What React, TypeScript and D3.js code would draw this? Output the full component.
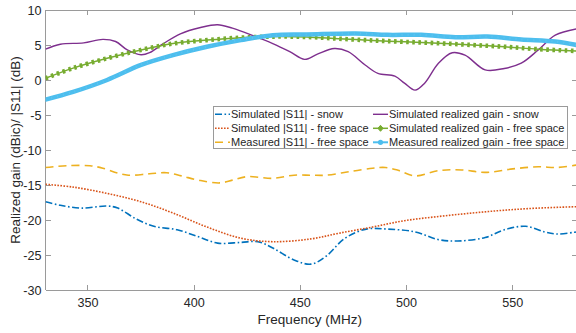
import React from 'react';
import * as d3 from 'd3';

const W = 576;
const H = 333;

const xTicks = [350, 400, 450, 500, 550];
const yTicks = [-30, -25, -20, -15, -10, -5, 0, 5, 10];

// Simulated |S11| - snow
const simS11SnowFreq = [330, 337, 347, 359, 364, 373, 381, 392, 402, 411, 422, 430, 437, 447, 455, 462, 471, 481, 491, 504, 515, 524, 537, 546, 556, 565, 571, 580];
const simS11SnowVal = [-17.4, -17.9, -18.3, -18.0, -18.3, -19.9, -20.9, -21.4, -22.4, -23.3, -23.2, -23.1, -24.0, -25.7, -26.3, -25.2, -22.6, -21.3, -21.3, -21.7, -22.8, -23.0, -22.5, -21.4, -20.9, -21.7, -22.0, -21.7];

// Simulated |S11| - free space
const simS11FreeFreq = [330, 343, 359, 375, 390, 406, 422, 437, 455, 468, 484, 499, 515, 531, 546, 562, 580];
const simS11FreeVal = [-14.9, -15.3, -16.2, -17.4, -19.0, -21.0, -22.6, -23.1, -22.7, -21.9, -21.0, -20.1, -19.5, -19.0, -18.6, -18.3, -18.1];

// Measured |S11| - free space
const measS11FreeFreq = [330, 340, 351, 357, 364, 369, 379, 387, 394, 402, 412, 418, 425, 437, 447, 455, 462, 473, 484, 490, 496, 504, 515, 526, 537, 550, 562, 571, 580];
const measS11FreeVal = [-12.5, -12.25, -12.25, -12.6, -13.3, -13.6, -13.4, -13.25, -13.7, -14.3, -14.7, -14.3, -13.8, -14.05, -13.6, -13.6, -13.6, -13.1, -12.6, -12.5, -12.9, -13.7, -12.95, -12.85, -13.2, -12.7, -12.4, -12.5, -12.15];

// Simulated realized gain - snow
const simGainSnowFreq = [330, 337, 348, 357, 363, 368.5, 375, 379, 385.5, 393.5, 403, 411, 418, 428, 437, 445, 452, 458, 466, 472.5, 480.5, 486.5, 494.5, 499, 504, 508.5, 515, 521.5, 527.5, 537, 546, 554, 562, 570, 580];
const simGainSnowVal = [4.4, 5.1, 5.3, 5.8, 5.5, 4.3, 3.6, 3.9, 5.2, 6.6, 7.5, 7.9, 7.4, 6.3, 5.2, 4.05, 2.95, 3.7, 4.5, 4.05, 2.15, 0.95, 0.55, -0.45, -1.45, -0.45, 2.4, 3.9, 3.55, 1.45, 1.65, 2.4, 4.3, 6.4, 7.3];

// Simulated realized gain - free space
const simGainFreeFreq = [330, 343, 359, 375, 390, 406, 422, 437, 453, 468, 484, 499, 515, 531, 546, 562, 580];
const simGainFreeVal = [0.25, 1.7, 3.1, 4.3, 5.2, 5.7, 6.05, 6.2, 6.15, 5.9, 5.65, 5.45, 5.25, 5.0, 4.75, 4.4, 4.15];

// Measured realized gain - free space
const measGainFreeFreq = [330, 343, 359, 375, 390, 406, 422, 437, 453, 476, 491, 507, 523, 538, 554, 570, 580];
const measGainFreeVal = [-2.8, -1.7, 0, 2.15, 3.55, 4.75, 5.7, 6.4, 6.5, 6.65, 6.45, 6.45, 6.1, 6.2, 5.8, 5.5, 5.0];

const seriesNames = [
  'Simulated |S11| - snow',
  'Simulated |S11| - free space',
  'Measured |S11| - free space',
  'Simulated realized gain - snow',
  'Simulated realized gain - free space',
  'Measured realized gain - free space',
];

const FONT = '"Liberation Sans", Arial, Helvetica, sans-serif';

export default function App() {
  const x = d3.scaleLinear().domain([330, 580]).range([45.5, 576.5]);
  const y = d3.scaleLinear().domain([-30, 10]).range([290, 10]);

  const mk = (fs: number[], vs: number[]) =>
    d3
      .line<number>()
      .x((_, i) => x(fs[i]))
      .y((d) => y(d))
      .curve(d3.curveCatmullRom.alpha(0.5))(vs) || '';

  const series = [
    { name: seriesNames[0], d: mk(simS11SnowFreq, simS11SnowVal), color: '#0072BD', width: 1.6, dash: '7 2.5 1.6 2.5', kind: 'line' },
    { name: seriesNames[1], d: mk(simS11FreeFreq, simS11FreeVal), color: '#D95319', width: 1.6, dash: '1.6 1.4', kind: 'line' },
    { name: seriesNames[2], d: mk(measS11FreeFreq, measS11FreeVal), color: '#EDB120', width: 1.6, dash: '8 5', kind: 'line' },
    { name: seriesNames[3], d: mk(simGainSnowFreq, simGainSnowVal), color: '#7E2F8E', width: 1.4, dash: undefined, kind: 'line' },
    { name: seriesNames[4], d: mk(simGainFreeFreq, simGainFreeVal), color: '#77AC30', width: 1.5, dash: undefined, kind: 'marker' },
    { name: seriesNames[5], d: mk(measGainFreeFreq, measGainFreeVal), color: '#4DBEEE', width: 4.5, dash: undefined, kind: 'thick' },
  ];

  const axisColor = '#9a9a9a';
  const textColor = '#262626';
  const left = x.range()[0];
  const right = x.range()[1];
  const top = y.range()[1];
  const bottom = y.range()[0];

  const legX = 213;
  const legY = 106;
  const legW = 354;
  const legH = 42;
  const rowY = [114.3, 128.3, 142.3];
  const colLine = [
    [215, 230],
    [373, 388],
  ];
  const colText = [231, 389];

  return (
    <svg
      width={W}
      height={H}
      style={{ position: 'absolute', left: 0, top: 0, display: 'block', background: '#fff' }}
      fontFamily={FONT}
    >
      <defs>
        <clipPath id="plotClip">
          <rect x={left} y={top} width={right - left} height={bottom - top} />
        </clipPath>
      </defs>
      <rect x={0} y={0} width={W} height={H} fill="#fff" />

      {/* axes box */}
      <g stroke={axisColor} strokeWidth={1} shapeRendering="crispEdges">
        <line x1={left} x2={right} y1={top} y2={top} />
        <line x1={left} x2={right} y1={bottom} y2={bottom} />
        <line x1={left} x2={left} y1={top} y2={bottom} />
        <line x1={right} x2={right} y1={top} y2={bottom} />
        {xTicks.map((t) => (
          <g key={'xt' + t}>
            <line x1={x(t)} x2={x(t)} y1={bottom} y2={bottom - 5} />
            <line x1={x(t)} x2={x(t)} y1={top} y2={top + 5} />
          </g>
        ))}
        {yTicks.map((t) => (
          <g key={'yt' + t}>
            <line x1={left} x2={left + 5} y1={y(t)} y2={y(t)} />
            <line x1={right} x2={right - 5} y1={y(t)} y2={y(t)} />
          </g>
        ))}
      </g>

      {/* tick labels */}
      <g fill={textColor} fontSize={12.6}>
        {xTicks.map((t) => (
          <text key={'xl' + t} x={x(t)} y={307} textAnchor="middle">
            {t}
          </text>
        ))}
        {yTicks.map((t) => (
          <text key={'yl' + t} x={41.5} y={y(t) + 4.5} textAnchor="end">
            {t}
          </text>
        ))}
      </g>

      <text x={(left + 576) / 2 - 1} y={324} textAnchor="middle" fontSize={13.5} fill={textColor}>
        Frequency (MHz)
      </text>
      <text
        transform={`translate(19.5, ${(top + bottom) / 2}) rotate(-90)`}
        textAnchor="middle"
        fontSize={13.5}
        fill={textColor}
      >
        Realized gain (dBic)/ |S11| (dB)
      </text>

      {/* series */}
      <g clipPath="url(#plotClip)" fill="none">
        {series.map((s, i) => (
          <g key={'s' + i}>
            <path
              d={s.d}
              stroke={s.color}
              strokeWidth={s.width}
              strokeDasharray={s.dash}
              strokeLinecap={s.kind === 'thick' ? 'round' : 'butt'}
              strokeLinejoin="round"
            />
            {s.kind === 'marker' && (
              <path d={s.d} stroke={s.color} strokeWidth={4.6} strokeDasharray="2.6 3.5" />
            )}
            {s.kind === 'thick' && (
              <path d={s.d} stroke="#6cc8f0" strokeWidth={2} strokeDasharray="1 5" opacity={0.6} />
            )}
          </g>
        ))}
      </g>

      {/* legend */}
      <g>
        <rect x={legX} y={legY} width={legW} height={legH} fill="#fff" stroke={axisColor} strokeWidth={1} shapeRendering="crispEdges" />
        {series.map((s, i) => {
          const col = i < 3 ? 0 : 1;
          const row = i % 3;
          const [x1, x2] = colLine[col];
          const yy = rowY[row];
          const cx = (x1 + x2) / 2;
          return (
            <g key={'lg' + i}>
              <line
                x1={x1}
                x2={x2}
                y1={yy}
                y2={yy}
                stroke={s.color}
                strokeWidth={s.kind === 'thick' ? 2 : s.width}
                strokeDasharray={s.kind === 'line' ? s.dash : undefined}
              />
              {s.kind === 'marker' && (
                <path d={`M${cx},${yy - 3}L${cx + 2.6},${yy}L${cx},${yy + 3}L${cx - 2.6},${yy}Z`} fill={s.color} stroke={s.color} />
              )}
              {s.kind === 'thick' && (
                <circle cx={cx} cy={yy} r={2.6} fill={s.color} />
              )}
              <text x={colText[col]} y={yy + 4} fontSize={11} fill={textColor}>
                {s.name}
              </text>
            </g>
          );
        })}
      </g>
    </svg>
  );
}
